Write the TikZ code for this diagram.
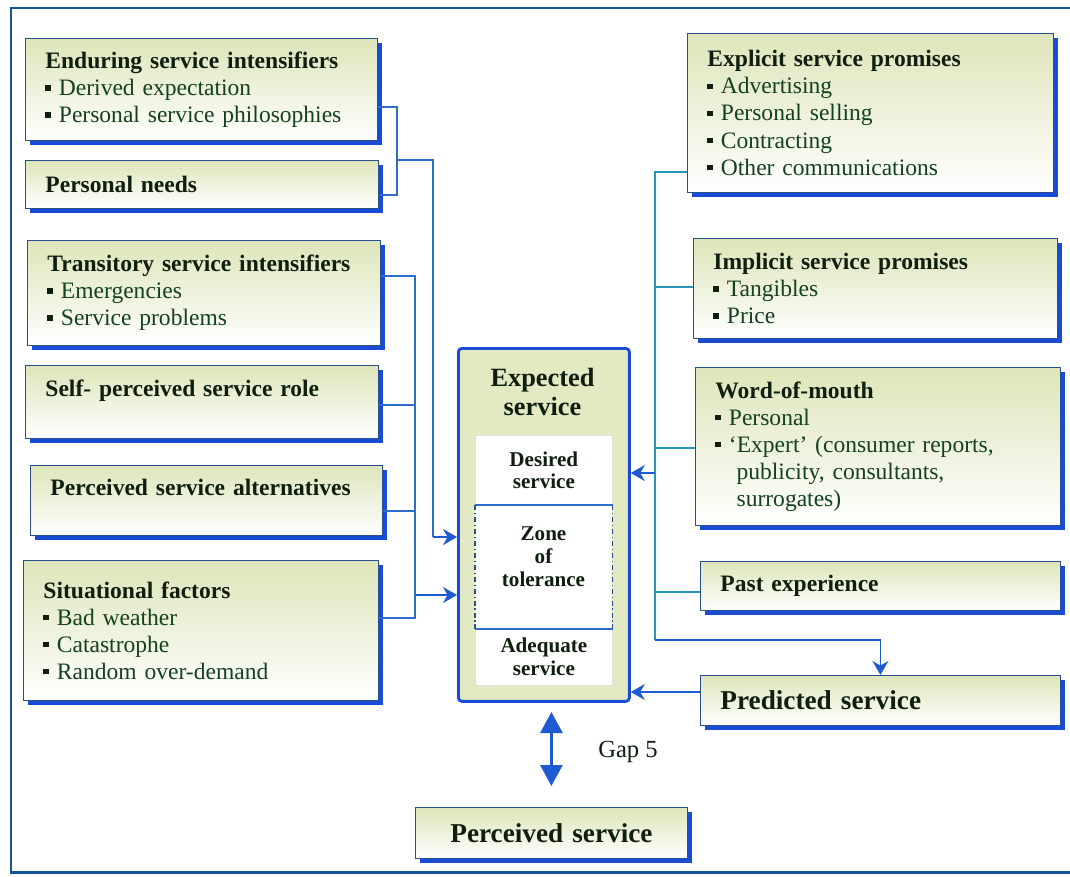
\documentclass[tikz,border=0pt]{standalone}
\usepackage{fontspec}
\setmainfont{Liberation Serif}
\definecolor{BoxTint}{RGB}{222,229,185}
\definecolor{ShadowBlue}{RGB}{25,75,215}
\definecolor{EdgeBlue}{RGB}{40,80,140}
\definecolor{LinkBlue}{RGB}{45,110,205}
\definecolor{LinkTeal}{RGB}{40,150,180}
\definecolor{ArrowBlue}{RGB}{30,90,210}
\definecolor{TitleInk}{RGB}{15,30,15}
\definecolor{ItemGreen}{RGB}{20,65,30}
\definecolor{FrameBlue}{RGB}{25,85,150}
\usetikzlibrary{arrows.meta, positioning, shadows}

\newcommand{\sqitem}{{\color{TitleInk}\rule[0.2em]{0.24em}{0.24em}}\ }
\newcommand{\boxhead}[1]{{\bfseries\color{TitleInk}#1}}
\hyphenpenalty=10000
\exhyphenpenalty=10000

\begin{document}
\begin{tikzpicture}[x=0.02cm, y=-0.02cm,
    box/.style={draw=EdgeBlue,line width=0.5pt,top color=BoxTint,bottom color=white,
                drop shadow={shadow xshift=0.1cm,shadow yshift=-0.1cm,fill=ShadowBlue,opacity=1},
                anchor=north west,align=left,inner xsep=0.4cm,inner ysep=0pt,
                font=\fontsize{13.4}{15.4}\selectfont,text=ItemGreen},
    bigbox/.style={box,font=\fontsize{15.5}{17}\selectfont\bfseries,text=TitleInk},
    expbox/.style={draw=ShadowBlue,line width=1.6pt,rounded corners=2pt,fill=BoxTint!85,
                   anchor=north west,minimum width=3.42cm,minimum height=7.06cm},
    cell/.style={draw=gray!25,fill=white,anchor=north west,minimum width=2.74cm,inner sep=1pt,
                 align=center,font=\fontsize{12}{13}\selectfont\bfseries,text=TitleInk},
    link/.style={LinkBlue,line width=0.7pt},
    linkR/.style={LinkTeal,line width=0.7pt},
    arrow/.style={-{Stealth[length=0.28cm,width=0.32cm]},ArrowBlue,line width=0.9pt},
    gap/.style={{Triangle[width=0.44cm,length=0.42cm]}-{Triangle[width=0.44cm,length=0.42cm]},
                ArrowBlue,line width=1.6pt}]

    \useasboundingbox (0,0) rectangle (1070,876);

    % Frame
    \draw[FrameBlue,line width=1.7pt] (1075,8) -- (11,8) -- (11,872) -- (1075,872);

    % Left column
    \node[box,text width=6.24cm,minimum height=2.04cm] (ends) at (25,38)
      {\boxhead{Enduring service intensifiers}\\\sqitem Derived expectation\\\sqitem Personal service philosophies};
    \node[box,text width=6.26cm,minimum height=0.96cm] (needs) at (25,160)
      {\boxhead{Personal needs}};
    \node[box,text width=6.26cm,minimum height=2.1cm] (trans) at (27,240)
      {\boxhead{Transitory service intensifiers}\\\sqitem Emergencies\\\sqitem Service problems};
    \node[box,text width=6.26cm,minimum height=1.46cm] (role) at (25,365)
      {\boxhead{Self- perceived service role}\\\mbox{}};
    \node[box,text width=6.24cm,minimum height=1.4cm] (alts) at (30,465)
      {\boxhead{Perceived service alternatives}\\\mbox{}};
    \node[box,text width=6.3cm,minimum height=2.8cm] (situ) at (23,560)
      {\boxhead{Situational factors}\\\sqitem Bad weather\\\sqitem Catastrophe\\\sqitem Random over-demand};

    % Right column
    \node[box,text width=6.52cm,minimum height=3.18cm] (expl) at (687,33)
      {\boxhead{Explicit service promises}\\\sqitem Advertising\\\sqitem Personal selling\\\sqitem Contracting\\\sqitem Other communications};
    \node[box,text width=6.48cm,minimum height=2.0cm] (impl) at (693,238)
      {\boxhead{Implicit service promises}\\\sqitem Tangibles\\\sqitem Price};
    \node[box,text width=6.5cm,minimum height=3.16cm] (wom) at (695,367)
      {\boxhead{Word-of-mouth}\\\sqitem Personal\\\sqitem `Expert' (consumer reports,\\\hspace*{0.9em}publicity, consultants,\\\hspace*{0.9em}surrogates)};
    \node[box,text width=6.4cm,minimum height=0.98cm] (past) at (700,561)
      {\boxhead{Past experience}};
    \node[bigbox,text width=6.4cm,minimum height=1.0cm] (pred) at (700,675) {Predicted service};
    \node[bigbox,text width=4.64cm,minimum height=1.02cm,align=center] (perc) at (415,807) {Perceived service};

    % Expected service
    \node[expbox] (exp) at (457,347) {};
    \node[font=\fontsize{15}{17}\selectfont\bfseries,text=TitleInk,align=center] (expt) at (542.5,392) {Expected\\service};
    \node[cell,minimum height=1.4cm] (des) at (475,435) {Desired\\service};
    \node[cell,draw=none,minimum height=2.46cm] (zone) at (475,505) {};
    \node[cell,anchor=center,fill=none,draw=none] (zonet) at (543.5,557) {Zone\\of\\tolerance};
    \node[cell,minimum height=1.14cm] (adq) at (475,628) {Adequate\\service};
    \draw[LinkBlue,line width=1pt] (zone.north west) -- (zone.north east) (zone.south west) -- (zone.south east);
    \draw[EdgeBlue,line width=0.7pt,dash pattern=on 3pt off 1.5pt on 0.8pt off 1.5pt]
      (zone.north west) -- (zone.south west) (zone.north east) -- (zone.south east);

    % Left connectors
    \coordinate (brk) at (397,160);
    \coordinate (bendA) at (433,537);
    \coordinate (busTop) at (415,276);
    \coordinate (busBot) at (415,618);
    \draw[link] (ends.east |- 0,107) -| (brk) |- (needs.east |- 0,195);
    \draw[link] (brk) -| (bendA);
    \draw[arrow] (bendA) -- (exp.west |- bendA);
    \draw[link] (trans.east |- busTop) -- (busTop) -- (busBot) -- (situ.east |- busBot);
    \foreach \n/\y in {role/405, alts/511}
      \draw[link] (\n.east |- 0,\y) -- (busTop |- 0,\y);
    \draw[arrow] (busTop |- 0,595) -- (exp.west |- 0,595);

    % Right connectors
    \coordinate (busR) at (655,172);
    \coordinate (busRbot) at (655,640);
    \draw[linkR] (expl.west |- busR) -- (busR) -- (busRbot);
    \draw[arrow] (busRbot) -| (pred.north);
    \foreach \n/\y in {impl/287, wom/448, past/592}
      \draw[linkR] (\n.west |- 0,\y) -- (busR |- 0,\y);
    \draw[arrow] (busR |- 0,473) -- (exp.east |- 0,473);
    \draw[arrow] (pred.west |- 0,692) -- (exp.east |- 0,692);

    % Gap 5
    \draw[gap] (perc.north |- 0,712) -- (perc.north |- 0,786);
    \node[font=\fontsize{14}{15}\selectfont,text=TitleInk] (gaplbl) at (628,752) {Gap 5};
\end{tikzpicture}
\end{document}
